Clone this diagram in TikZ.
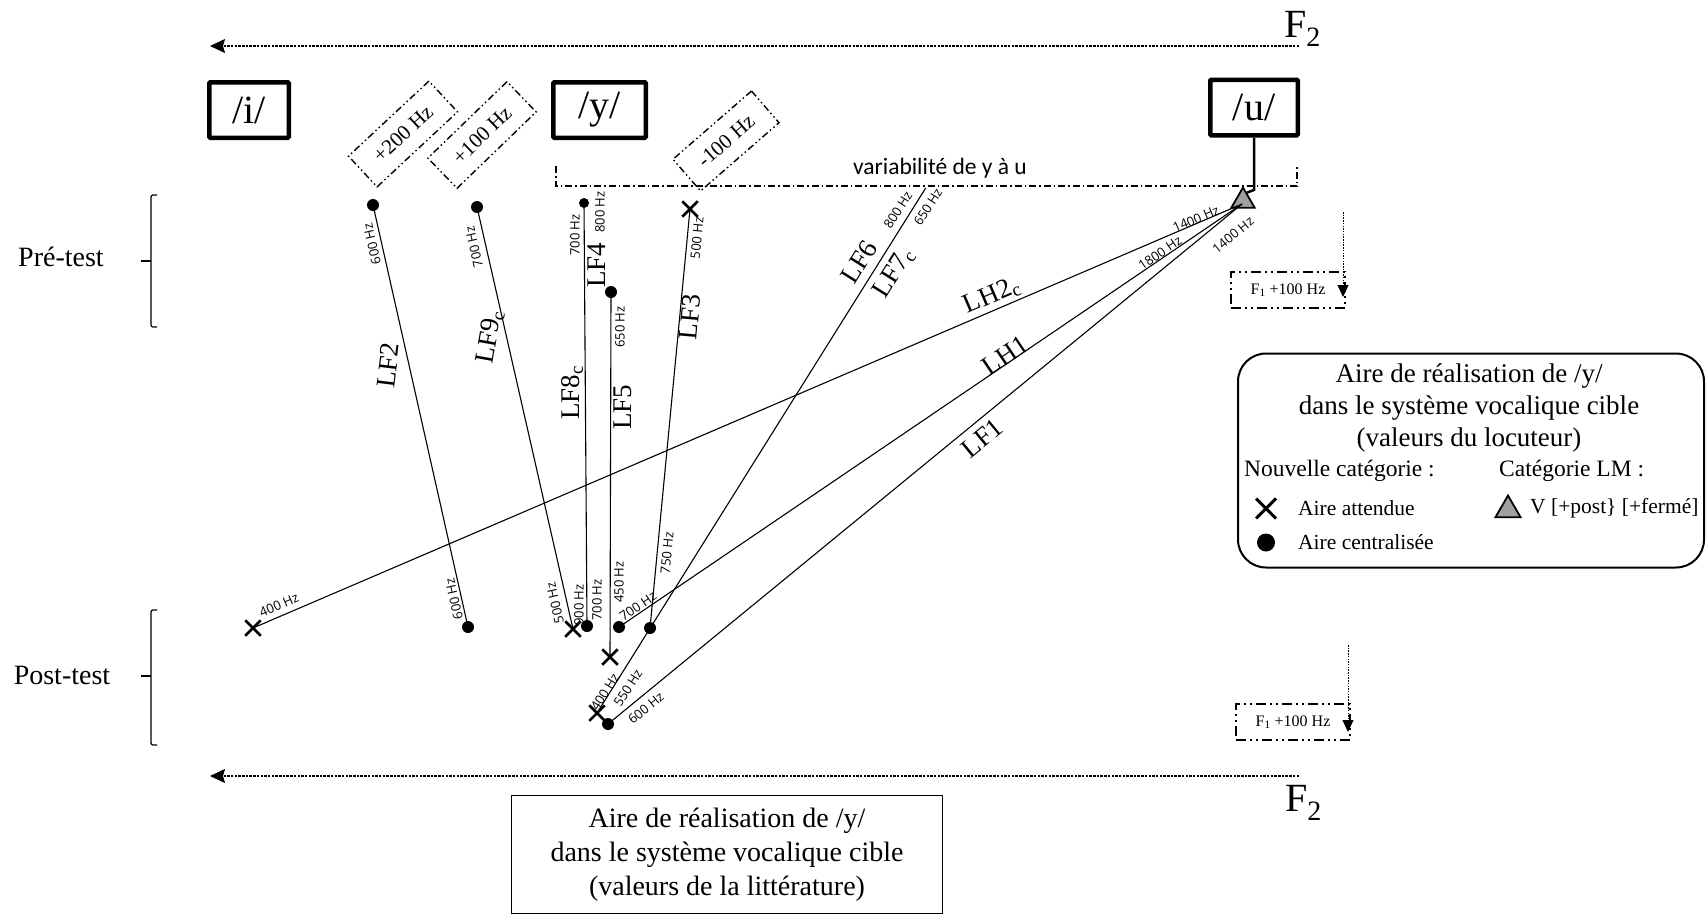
\documentclass[tikz,border=0pt]{standalone}
\usepackage{fontspec}
\setmainfont{Liberation Serif}
\newfontfamily\hzfont{Open Sans}
\newfontfamily\calfont{Carlito}
\usetikzlibrary{arrows.meta,shapes.geometric,shapes.misc,calc}
\definecolor{trigray}{HTML}{A0A0A0}
\tikzset{
  vowel/.style={draw, line width=4.5pt, rounded corners=1pt, inner sep=0pt, minimum height=55.5pt, font=\fontsize{40}{40}\selectfont},
  dot/.style={circle, fill=black, inner sep=0pt, minimum size=12pt},
  sdot/.style={circle, fill=black, inner sep=0pt, minimum size=10pt},
  xmark/.style={cross out, draw=black, line width=2.5pt, inner sep=0pt, minimum size=13pt},
  tri/.style={regular polygon, regular polygon sides=3, draw=black, fill=trigray, line width=1.8pt, inner sep=0pt, minimum size=27pt},
  hz/.style={font=\hzfont\fontsize{13}{13}\selectfont, inner sep=0pt},
  lf/.style={font=\fontsize{27}{27}\selectfont, inner sep=0pt},
  ln/.style={line width=1.1pt},
  rbox/.style={draw, line width=1.4pt, dash pattern=on 7pt off 3pt on 1.5pt off 3pt on 1.5pt off 3pt, minimum width=110pt, minimum height=42pt, inner sep=0pt, font=\fontsize{21}{21}\selectfont},
  ddline/.style={line width=1.2pt, dash pattern=on 7pt off 3pt on 1.5pt off 3pt},
  f1box/.style={draw, line width=2.4pt, dash pattern=on 10pt off 4pt on 2pt off 4pt on 2pt off 4pt, minimum width=114pt, minimum height=36pt, inner sep=0pt, font=\fontsize{16}{16}\selectfont},
  f2arrow/.style={line width=1.2pt, dash pattern=on 2.5pt off 1.2pt, -{Stealth[length=15pt,width=14pt,inset=2pt]}},
  vdarrow/.style={line width=1pt, dash pattern=on 1.5pt off 1.2pt, -{Triangle[length=12pt,width=11pt]}},
  brack/.style={line width=1.2pt, rounded corners=2pt},
  side/.style={font=\fontsize{28}{28}\selectfont, inner sep=0pt},
  legtxt/.style={font=\fontsize{23.5}{23.5}\selectfont, inner sep=0pt, anchor=west},
  legent/.style={font=\fontsize{21.5}{21.5}\selectfont, inner sep=0pt, anchor=west}
}
\begin{document}
\begin{tikzpicture}[x=1pt,y=-1pt]
\fill[white] (0,0) rectangle (1708,916);
\useasboundingbox (0,0) rectangle (1708,916);

% F2 arrows
\coordinate (a1s) at (1299,46);
\coordinate (a1e) at (210,46);
\draw[f2arrow] (a1s) -- (a1e);
\node[anchor=base west, inner sep=0pt, font=\fontsize{40}{40}\selectfont] (f2top) at (1284,37) {F\textsubscript{2}};
\coordinate (a2s) at (1299,776);
\coordinate (a2e) at (210,776);
\draw[f2arrow] (a2s) -- (a2e);
\node[anchor=base west, inner sep=0pt, font=\fontsize{40}{40}\selectfont] (f2bot) at (1285,811) {F\textsubscript{2}};

% vowel boxes
\node[vowel, minimum width=79.5pt] (i) at (249,110) {/i/};
\node[vowel, minimum width=92.5pt] (y) at (599.5,110) {/y/};
\node[vowel, minimum width=87.5pt] (u) at (1254,107.5) {/u/};

% rotated frequency boxes
\node[rbox, rotate=43] (p200) at (403,134) {+200 Hz};
\node[rbox, rotate=44] (p100) at (482,135) {+100 Hz};
\node[rbox, rotate=41, minimum width=104pt] (m100) at (726,141) {-100 Hz};

% variability bracket
\coordinate (vl) at (556,166);
\coordinate (vr) at (1297,166);
\draw[ddline] (vl) -- ++(0,20) -| (vr);
\node[font=\calfont\fontsize{23.5}{23.5}\selectfont, inner sep=0pt] (var) at (940,168) {variabilité de y à u};

% triangle
\node[tri] (tri) at (1243,201) {};
\coordinate (conv) at (1242,204);
\draw[line width=2.5pt] (u.south) -- ++(0,52.5) -- ($(tri.corner 1)!0.3!(tri.corner 3)$);

% top points
\node[dot] (t2) at (373,205) {};
\node[dot] (t9) at (477,207) {};
\node[sdot] (t8) at (584,203) {};
\node[dot] (t5) at (611,292) {};
\node[xmark] (t3) at (690,209) {};
\coordinate (t6) at (925.7,188);

% bottom points
\node[xmark] (b0) at (253,628) {};
\node[dot] (b2) at (468,627) {};
\node[xmark] (b9) at (573,629) {};
\node[dot] (b8) at (587,626) {};
\node[dot] (b1) at (619,627) {};
\node[dot] (b3) at (650,628) {};
\node[xmark] (b5) at (610,657) {};
\node[xmark] (b6) at (597,713) {};
\node[dot] (bf) at (608,724) {};

% lines
\draw[ln] (t2.center) -- (b2.center);
\draw[ln] (t9.center) -- (b9.center);
\draw[ln] (t8.center) -- (b8.center);
\draw[ln] (t5.center) -- (b5.center);
\draw[ln] (t3.center) -- (b3.center);
\draw[ln] (t6) -- (b6.center);
\draw[ln] (conv) -- (b0.center);
\draw[ln] (conv) -- (b1.center);
\draw[ln] (conv) -- (bf.center);

% Hz labels
\node[hz, rotate=102.7] (h1) at (372,244) {600 Hz};
\node[hz, rotate=102.8] (h2) at (474,247) {700 Hz};
\node[hz, rotate=90] (h3) at (575,235) {700 Hz};
\node[hz, rotate=90] (h4) at (600,212) {800 Hz};
\node[hz, rotate=90] (h5) at (620,327) {650 Hz};
\node[hz, rotate=84.5] (h6) at (697,238) {500 Hz};
\node[hz, rotate=102.7] (h7) at (454,599) {600 Hz};
\node[hz, rotate=102.8] (h8) at (555,603) {500 Hz};
\node[hz, rotate=90] (h9) at (579,605) {900 Hz};
\node[hz, rotate=90] (h10) at (597,600) {700 Hz};
\node[hz, rotate=90] (h11) at (619,582) {450 Hz};
\node[hz, rotate=84.5] (h12) at (667,553) {750 Hz};
\node[hz, rotate=34.2] (h13) at (638,606) {700 Hz};
\node[hz, rotate=57.9] (h14) at (605,692) {400 Hz};
\node[hz, rotate=57.9] (h15) at (628,688) {550 Hz};
\node[hz, rotate=39.4] (h16) at (646,708) {600 Hz};
\node[hz, rotate=23.2] (h17) at (279,605) {400 Hz};
\node[hz, rotate=57.9] (h18) at (898,210) {800 Hz};
\node[hz, rotate=57.9] (h19) at (928,207) {650 Hz};
\node[hz, rotate=23.2] (h20) at (1196,219) {1400 Hz};
\node[hz, rotate=34.2] (h21) at (1160,253) {1800 Hz};
\node[hz, rotate=39.4] (h22) at (1233,235) {1400 Hz};

% line names
\node[lf, rotate=83] (nLF2) at (388,365) {LF2};
\node[lf, rotate=80] (nLF9) at (490,337) {LF9\textsubscript{c}};
\node[lf, rotate=90] (nLF8) at (572,393) {LF8\textsubscript{c}};
\node[lf, rotate=90] (nLF4) at (597,265) {LF4};
\node[lf, rotate=90] (nLF5) at (623,407) {LF5};
\node[lf, rotate=85] (nLF3) at (690,317) {LF3};
\node[lf, rotate=57.9] (nLF6) at (859,262) {LF6};
\node[lf, rotate=57.9] (nLF7) at (894,273) {LF7\textsubscript{c}};
\node[lf, rotate=23.2] (nLH2) at (992,296) {LH2\textsubscript{c}};
\node[lf, rotate=34.2] (nLH1) at (1005,355) {LH1};
\node[lf, rotate=39.4] (nLF1) at (982,438) {LF1};

% F1 boxes
\node[f1box] (f1a) at (1288,290) {F\textsubscript{1} +100 Hz};
\coordinate (v1s) at (1343,212);
\coordinate (v1e) at (1343,297);
\draw[vdarrow] (v1s) -- (v1e);
\node[f1box] (f1b) at (1293,722) {F\textsubscript{1} +100 Hz};
\coordinate (v2s) at (1348,645);
\coordinate (v2e) at (1348,732);
\draw[vdarrow] (v2s) -- (v2e);

% Pre / Post test
\node[side] (pre) at (61,257) {Pré-test};
\node[side] (post) at (62,675) {Post-test};
\draw[brack] (157,195) -- (151,195) -- (151,327) -- (157,327);
\draw[line width=1.2pt] (141,261) -- (151,261);
\draw[brack] (157,610) -- (151,610) -- (151,745) -- (157,745);
\draw[line width=1.2pt] (141,676) -- (151,676);

% legend
\node[draw, line width=2pt, rounded corners=28pt, minimum width=466pt, minimum height=214pt, inner sep=0pt] (legend) at (1471,460.5) {};
\node[align=center, inner sep=0pt, font=\fontsize{27}{32}\selectfont] (legtitle) at (1469,408) {Aire de réalisation de /y/\\dans le système vocalique cible\\(valeurs du locuteur)};
\node[legtxt] (nouv) at (1244,471) {Nouvelle catégorie :};
\node[legtxt] (catlm) at (1499,471) {Catégorie LM :};
\node[xmark, minimum size=17pt, line width=3pt] (lx) at (1266,508.5) {};
\node[legent] (lxt) at (1298,508.5) {Aire attendue};
\node[dot, minimum size=18pt] (ld) at (1266,542.5) {};
\node[legent] (ldt) at (1298,542.5) {Aire centralisée};
\node[tri, minimum size=29pt] (lt) at (1508,510) {};
\node[legent] (ltt) at (1530,508.5) {V [+post\} [+fermé]};

% bottom box
\node[draw, line width=1.8pt, minimum width=431pt, minimum height=118pt, inner sep=0pt] (botbox) at (727,854.5) {};
\node[align=center, inner sep=0pt, font=\fontsize{28}{34}\selectfont] (bottext) at (727,855) {Aire de réalisation de /y/\\dans le système vocalique cible\\(valeurs de la littérature)};
\end{tikzpicture}
\end{document}
